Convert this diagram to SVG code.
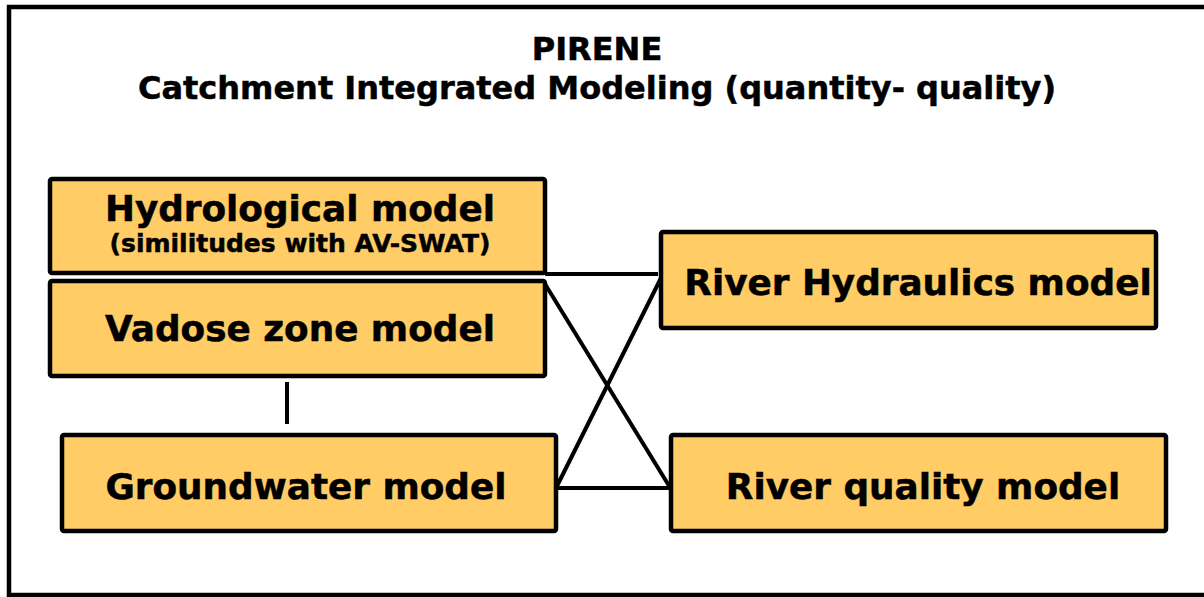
<svg xmlns="http://www.w3.org/2000/svg" width="1204" height="597" viewBox="0 0 1204 597">
  <style>
    .frame { fill: #ffffff; stroke: #000000; stroke-width: 4.5; }
    .box { fill: #FFCC66; stroke: #000000; stroke-width: 4.5; }
    .link { stroke: #000000; stroke-width: 4; fill: none; stroke-linecap: butt; }
    text { font-family: "DejaVu Sans", Verdana, sans-serif; font-weight: bold; fill: #000000; stroke: #000000; stroke-width: 0.5; text-anchor: middle; }
    .title { font-size: 32px; }
    .label { font-size: 35.8px; }
    .note { font-size: 25px; }
  </style>

  <!-- outer frame -->
  <rect class="frame" x="9" y="7" width="1200" height="588"/>

  <!-- heading -->
  <g id="heading">
    <text class="title" x="597" y="60">PIRENE</text>
    <text class="title" x="597" y="99">Catchment Integrated Modeling (quantity- quality)</text>
  </g>

  <!-- connectors -->
  <g id="connectors">
    <line class="link" x1="545" y1="274" x2="658" y2="274"/>
    <line class="link" x1="545" y1="284" x2="671" y2="489"/>
    <line class="link" x1="556" y1="488" x2="662" y2="276"/>
    <line class="link" x1="556" y1="488" x2="671" y2="488"/>
    <line class="link" x1="287" y1="382" x2="287" y2="424"/>
  </g>

  <g id="hydrological">
    <rect class="box" x="50" y="179" width="495" height="94" rx="2"/>
    <text class="label" x="300" y="221">Hydrological model</text>
    <text class="note" x="300" y="252">(similitudes with AV-SWAT)</text>
  </g>

  <g id="vadose">
    <rect class="box" x="50" y="281" width="495" height="95" rx="2"/>
    <text class="label" x="300" y="341">Vadose zone model</text>
  </g>

  <g id="groundwater">
    <rect class="box" x="62" y="435" width="494" height="96" rx="2"/>
    <text class="label" x="306" y="499">Groundwater model</text>
  </g>

  <g id="river-hydraulics">
    <rect class="box" x="661" y="232" width="495" height="96" rx="2"/>
    <text class="label" x="918" y="295">River Hydraulics model</text>
  </g>

  <g id="river-quality">
    <rect class="box" x="671" y="435" width="495" height="96" rx="2"/>
    <text class="label" x="923" y="499">River quality model</text>
  </g>
</svg>
